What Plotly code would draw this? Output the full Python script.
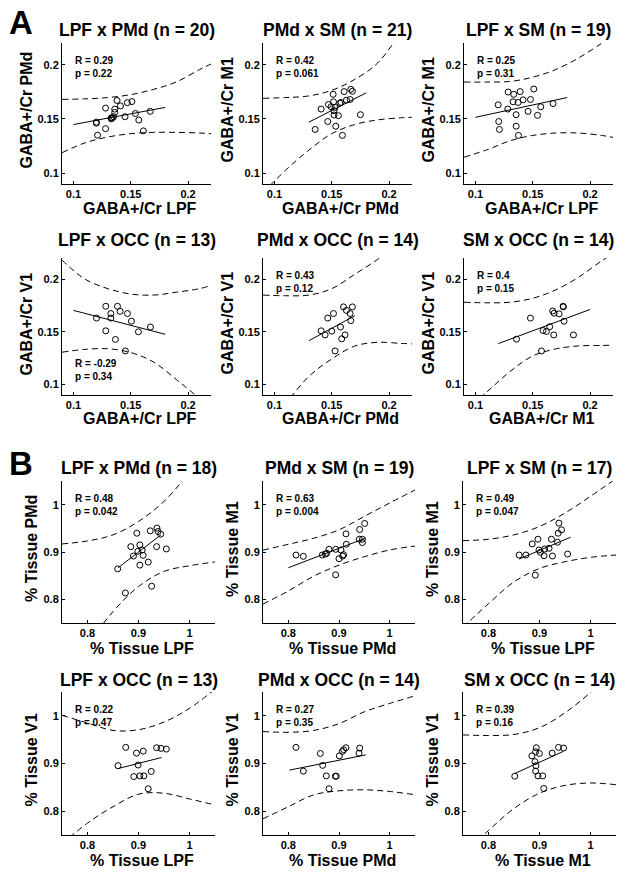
import plotly.graph_objects as go

W, H = 629, 874

# ---------------- A: GABA+/Cr ----------------
titles_a = ["LPF x PMd (n = 20)", "PMd x SM (n = 21)", "LPF x SM (n = 19)",
            "LPF x OCC (n = 13)", "PMd x OCC (n = 14)", "SM x OCC (n = 14)"]
xlabels_a = ["GABA+/Cr LPF", "GABA+/Cr PMd", "GABA+/Cr LPF",
             "GABA+/Cr LPF", "GABA+/Cr PMd", "GABA+/Cr M1"]
ylabels_a = ["GABA+/Cr PMd", "GABA+/Cr M1", "GABA+/Cr M1",
             "GABA+/Cr V1", "GABA+/Cr V1", "GABA+/Cr V1"]
r_a = ["0.29", "0.42", "0.25", "-0.29", "0.43", "0.4"]
p_a = ["0.22", "0.061", "0.31", "0.34", "0.12", "0.15"]

band_x_a = [0.09, 0.11, 0.13, 0.15, 0.17, 0.19, 0.21, 0.22]

a1_x = [0.120, 0.121, 0.128, 0.128, 0.133, 0.134, 0.135, 0.136, 0.136, 0.138,
        0.141, 0.145, 0.147, 0.151, 0.154, 0.157, 0.161, 0.167, 0.120, 0.133]
a1_y = [0.146, 0.135, 0.160, 0.141, 0.151, 0.151, 0.152, 0.156, 0.159, 0.167,
        0.162, 0.152, 0.165, 0.166, 0.155, 0.149, 0.139, 0.157, 0.147, 0.150]
a1_fit_x = [0.10, 0.18]
a1_fit_y = [0.1448, 0.1606]
a1_hi = [0.168, 0.1685, 0.1697, 0.1724, 0.1773, 0.1842, 0.1955, 0.2006]
a1_lo = [0.1188, 0.1279, 0.1333, 0.1364, 0.1376, 0.1376, 0.137, 0.1364]

a2_x = [0.1355, 0.1407, 0.1465, 0.1471, 0.1494, 0.1512, 0.1515, 0.1520, 0.1520, 0.1535, 0.1558,
        0.1570, 0.1581, 0.1593, 0.1608, 0.1628, 0.1660, 0.1666, 0.1680, 0.1750, 0.1529]
a2_y = [0.1403, 0.1591, 0.1476, 0.1633, 0.1612, 0.1727, 0.1658, 0.1576, 0.1536, 0.1433, 0.1530,
        0.1645, 0.1652, 0.1348, 0.1752, 0.1673, 0.1679, 0.1773, 0.1755, 0.1539, 0.1606]
a2_fit_x = [0.13, 0.18]
a2_fit_y = [0.147, 0.174]
a2_hi = [0.169, 0.1697, 0.1712, 0.1764, 0.1864, 0.2015, 0.229, 0.242]
a2_lo = [0.082, 0.103, 0.1212, 0.1364, 0.1448, 0.1491, 0.151, 0.1515]

a3_x = [0.1198, 0.1203, 0.1209, 0.1285, 0.1282, 0.1328, 0.1334, 0.1355, 0.1355, 0.1372,
        0.1375, 0.1390, 0.1416, 0.1459, 0.1480, 0.1509, 0.1541, 0.1570, 0.1677]
a3_y = [0.1630, 0.1476, 0.1403, 0.1748, 0.1591, 0.1658, 0.1727, 0.1539, 0.1433, 0.1652,
        0.1348, 0.1752, 0.1676, 0.1570, 0.1679, 0.1776, 0.1533, 0.1612, 0.1642]
a3_fit_x = [0.10, 0.18]
a3_fit_y = [0.1515, 0.1697]
a3_hi = [0.184, 0.184, 0.1845, 0.1885, 0.1955, 0.2062, 0.2197, 0.227]
a3_lo = [0.1147, 0.1215, 0.1298, 0.1348, 0.137, 0.137, 0.1348, 0.133]

a4_x = [0.1201, 0.1282, 0.1282, 0.1326, 0.1326, 0.1366, 0.1384, 0.1407, 0.1453, 0.1471,
        0.1506, 0.1567, 0.1672]
a4_y = [0.1630, 0.1742, 0.1509, 0.1673, 0.1630, 0.1427, 0.1742, 0.1694, 0.1318, 0.1673,
        0.1600, 0.1500, 0.1545]
a4_fit_x = [0.10, 0.18]
a4_fit_y = [0.1703, 0.1476]
a4_hi = [0.218, 0.200, 0.1909, 0.1858, 0.1848, 0.1876, 0.1909, 0.194]
a4_lo = [0.1306, 0.1333, 0.1339, 0.1303, 0.1212, 0.1045, 0.0864, 0.076]

a5_x = [0.1407, 0.1442, 0.1465, 0.1500, 0.1515, 0.1529, 0.1576, 0.1587, 0.1602, 0.1616,
        0.1628, 0.1660, 0.1666, 0.1680]
a5_y = [0.1509, 0.1470, 0.1630, 0.1506, 0.1673, 0.1318, 0.1545, 0.1433, 0.1736, 0.1470,
        0.1703, 0.1673, 0.1606, 0.1736]
a5_fit_x = [0.13, 0.17]
a5_fit_y = [0.1415, 0.1652]
a5_hi = [0.1848, 0.1842, 0.1848, 0.1909, 0.2045, 0.2187, 0.236, 0.245]
a5_lo = [0.060, 0.0826, 0.1076, 0.1242, 0.1364, 0.140, 0.139, 0.1385]

a6_x = [0.1358, 0.1480, 0.1576, 0.1590, 0.1619, 0.1648, 0.1674, 0.1683, 0.1686, 0.1730,
        0.1765, 0.1767, 0.1773, 0.1855]
a6_y = [0.1430, 0.1630, 0.1318, 0.1512, 0.1503, 0.1548, 0.1697, 0.1470, 0.1676, 0.1670,
        0.1742, 0.1736, 0.1600, 0.1470]
a6_fit_x = [0.12, 0.20]
a6_fit_y = [0.1388, 0.1712]
a6_hi = [0.178, 0.1775, 0.178, 0.1818, 0.1897, 0.2018, 0.2172, 0.224]
a6_lo = [0.075, 0.093, 0.1121, 0.1271, 0.1337, 0.1366, 0.137, 0.1373]

# ---------------- B: % tissue ----------------
titles_b = ["LPF x PMd (n = 18)", "PMd x SM (n = 19)", "LPF x SM (n = 17)",
            "LPF x OCC (n = 13)", "PMd x OCC (n = 14)", "SM x OCC (n = 14)"]
xlabels_b = ["% Tissue LPF", "% Tissue PMd", "% Tissue LPF",
             "% Tissue LPF", "% Tissue PMd", "% Tissue M1"]
ylabels_b = ["% Tissue PMd", "% Tissue M1", "% Tissue M1",
             "% Tissue V1", "% Tissue V1", "% Tissue V1"]
r_b = ["0.48", "0.63", "0.49", "0.22", "0.27", "0.39"]
p_b = ["0.042", "0.004", "0.047", "0.47", "0.35", "0.16"]

band_x_b = [0.75, 0.80, 0.85, 0.90, 0.95, 1.00, 1.05]

b1_x = [0.8592, 0.8743, 0.8849, 0.8901, 0.8967, 0.8987, 0.9026, 0.9026, 0.9072, 0.9092,
        0.9191, 0.9230, 0.9257, 0.9355, 0.9362, 0.9382, 0.9434, 0.9546]
b1_y = [0.8645, 0.8135, 0.9113, 0.8915, 0.9397, 0.9014, 0.9149, 0.8723, 0.9043, 0.8929,
        0.8787, 0.9447, 0.8277, 0.9113, 0.9504, 0.9433, 0.9376, 0.9064]
b1_fit_x = [0.86, 0.944]
b1_fit_y = [0.8667, 0.9362]
b1_hi = [0.917, 0.9234, 0.9362, 0.9645, 1.007, 1.068, 1.13]
b1_lo = [0.63, 0.704, 0.774, 0.827, 0.859, 0.871, 0.879]

b2_x = [0.8151, 0.8296, 0.8671, 0.8730, 0.8757, 0.8803, 0.8934, 0.8934, 0.9000, 0.9039,
        0.9072, 0.9092, 0.9138, 0.9145, 0.9401, 0.9408, 0.9461, 0.9461, 0.9507]
b2_y = [0.8936, 0.8908, 0.8936, 0.8957, 0.8972, 0.9057, 0.8518, 0.9057, 0.8858, 0.9043,
        0.8915, 0.8943, 0.9383, 0.9163, 0.9270, 0.9475, 0.9270, 0.9199, 0.9603]
b2_fit_x = [0.80, 0.952]
b2_fit_y = [0.8667, 0.9291]
b2_hi = [0.904, 0.9163, 0.9291, 0.9468, 0.9752, 1.0035, 1.031]
b2_lo = [0.790, 0.8177, 0.8489, 0.8723, 0.890, 0.9043, 0.9125]

b3_x = [0.8601, 0.8733, 0.8858, 0.8917, 0.8970, 0.8990, 0.9017, 0.9089, 0.9102, 0.9188,
        0.9234, 0.9254, 0.9353, 0.9366, 0.9380, 0.9432, 0.9551]
b3_y = [0.8936, 0.8936, 0.9170, 0.8511, 0.9270, 0.9043, 0.8993, 0.8922, 0.9064, 0.9078,
        0.9270, 0.8915, 0.9206, 0.9397, 0.9610, 0.9468, 0.8957]
b3_fit_x = [0.86, 0.961]
b3_fit_y = [0.8851, 0.9312]
b3_hi = [0.924, 0.927, 0.9362, 0.9539, 0.9823, 1.0177, 1.055]
b3_lo = [0.741, 0.7908, 0.8369, 0.8652, 0.8794, 0.8887, 0.8936]

b4_x = [0.8599, 0.8750, 0.8908, 0.8961, 0.8993, 0.9026, 0.9092, 0.9105, 0.9191, 0.9250,
        0.9355, 0.9441, 0.9546]
b4_y = [0.8954, 0.9338, 0.8726, 0.9217, 0.8968, 0.8740, 0.9260, 0.8740, 0.8470, 0.8833,
        0.9331, 0.9317, 0.9302]
b4_fit_x = [0.861, 0.945]
b4_fit_y = [0.8897, 0.9125]
b4_hi = [1.001, 0.985, 0.9694, 0.9708, 0.987, 1.0157, 1.056]
b4_lo = [0.731, 0.775, 0.8093, 0.8356, 0.8377, 0.8256, 0.813]

b5_x = [0.8151, 0.8296, 0.8632, 0.8678, 0.8750, 0.8803, 0.8928, 0.8947, 0.9007, 0.9066,
        0.9092, 0.9138, 0.9395, 0.9408]
b5_y = [0.9338, 0.8840, 0.9210, 0.8961, 0.8740, 0.8470, 0.8733, 0.8733, 0.9160, 0.9253,
        0.9288, 0.9331, 0.9217, 0.9324]
b5_fit_x = [0.802, 0.953]
b5_fit_y = [0.8861, 0.9181]
b5_hi = [0.967, 0.9655, 0.9694, 0.9836, 1.0085, 1.026, 1.042]
b5_lo = [0.784, 0.8093, 0.8342, 0.8427, 0.8448, 0.8413, 0.8345]

b6_x = [0.8515, 0.8851, 0.8911, 0.8924, 0.8937, 0.8931, 0.8924, 0.8997, 0.8970, 0.9063,
        0.9083, 0.9248, 0.9373, 0.9472]
b6_y = [0.8733, 0.9160, 0.9039, 0.9246, 0.9331, 0.8954, 0.8840, 0.9210, 0.8740, 0.8740,
        0.8477, 0.9217, 0.9338, 0.9324]
b6_fit_x = [0.8515, 0.9465]
b6_fit_y = [0.879, 0.9253]
b6_hi = [0.960, 0.9587, 0.9609, 0.9751, 1.0064, 1.049, 1.10]
b6_lo = [0.71, 0.7594, 0.8057, 0.8377, 0.8541, 0.8591, 0.8555]

panels_a = [
    (a1_x, a1_y, a1_fit_x, a1_fit_y, a1_hi, a1_lo),
    (a2_x, a2_y, a2_fit_x, a2_fit_y, a2_hi, a2_lo),
    (a3_x, a3_y, a3_fit_x, a3_fit_y, a3_hi, a3_lo),
    (a4_x, a4_y, a4_fit_x, a4_fit_y, a4_hi, a4_lo),
    (a5_x, a5_y, a5_fit_x, a5_fit_y, a5_hi, a5_lo),
    (a6_x, a6_y, a6_fit_x, a6_fit_y, a6_hi, a6_lo),
]
panels_b = [
    (b1_x, b1_y, b1_fit_x, b1_fit_y, b1_hi, b1_lo),
    (b2_x, b2_y, b2_fit_x, b2_fit_y, b2_hi, b2_lo),
    (b3_x, b3_y, b3_fit_x, b3_fit_y, b3_hi, b3_lo),
    (b4_x, b4_y, b4_fit_x, b4_fit_y, b4_hi, b4_lo),
    (b5_x, b5_y, b5_fit_x, b5_fit_y, b5_hi, b5_lo),
    (b6_x, b6_y, b6_fit_x, b6_fit_y, b6_hi, b6_lo),
]

# --- layout geometry (pixels) ---
FONT = "Liberation Sans, Arial, Helvetica, sans-serif"
rows_px = [(43, 184), (258, 395), (481, 623), (692, 835)]
cols_a_px = [(62, 211), (263, 412), (464, 613)]
cols_b_px = [(62, 215), (263, 415), (463, 616)]
title_y_px = [30, 240, 468, 680]
xlab_y_px = [209, 419, 648, 860]


def px_x(px):
    return px / W


def px_y(py):
    return 1 - py / H


fig = go.Figure()
annotations = []
layout_axes = {}

for k in range(12):
    part_b = k >= 6
    row = k // 3
    col = k % 3
    j = k % 6
    px_d, py_d, fx, fy, hi, lo = (panels_b if part_b else panels_a)[j]
    bx = band_x_b if part_b else band_x_a
    sfx = "" if k == 0 else str(k + 1)
    xa, ya = "x" + sfx, "y" + sfx

    cx0, cx1 = (cols_b_px if part_b else cols_a_px)[col]
    ry0, ry1 = rows_px[row]

    for band in (hi, lo):
        fig.add_trace(go.Scatter(x=bx, y=band, mode="lines", xaxis=xa, yaxis=ya,
                                 line=dict(color="black", width=1, dash="6px,4px", shape="spline"),
                                 showlegend=False, hoverinfo="skip"))
    fig.add_trace(go.Scatter(x=fx, y=fy, mode="lines", xaxis=xa, yaxis=ya,
                             line=dict(color="black", width=1), showlegend=False))
    fig.add_trace(go.Scatter(x=px_d, y=py_d, mode="markers", xaxis=xa, yaxis=ya,
                             marker=dict(symbol="circle-open", size=6, color="black",
                                         line=dict(width=1)),
                             showlegend=False))

    if part_b:
        rng = [0.75, 1.05]
        tv, tt = [0.8, 0.9, 1.0], ["0.8", "0.9", "1"]
    else:
        rng = [0.09, 0.22]
        tv, tt = [0.1, 0.15, 0.2], ["0.1", "0.15", "0.2"]

    ax_common = dict(range=rng, tickvals=tv, ticktext=tt, showline=True, linecolor="black",
                     linewidth=1, showgrid=False, zeroline=False, ticks="inside", ticklen=3,
                     tickcolor="black", tickfont=dict(family=FONT, size=11, color="black",
                                                      weight="bold"),
                     fixedrange=True)
    layout_axes["xaxis" + sfx] = dict(ax_common, domain=[px_x(cx0), px_x(cx1)], anchor=ya)
    layout_axes["yaxis" + sfx] = dict(ax_common, domain=[px_y(ry1), px_y(ry0)], anchor=xa)

    titles = titles_b if part_b else titles_a
    xl = xlabels_b if part_b else xlabels_a
    yl = ylabels_b if part_b else ylabels_a
    rr = r_b if part_b else r_a
    pp = p_b if part_b else p_a

    # panel title
    annotations.append(dict(text="<b>%s</b>" % titles[j], xref="paper", yref="paper",
                            x=px_x((cx0 + cx1) / 2), y=px_y(title_y_px[row]),
                            xanchor="center", yanchor="middle", showarrow=False,
                            font=dict(family=FONT, size=17.5, color="black")))
    # x label
    annotations.append(dict(text="<b>%s</b>" % xl[j], xref="paper", yref="paper",
                            x=px_x((cx0 + cx1) / 2 + 3), y=px_y(xlab_y_px[row]),
                            xanchor="center", yanchor="middle", showarrow=False,
                            font=dict(family=FONT, size=16, color="black")))
    # y label
    off = 31 if part_b else 36
    annotations.append(dict(text="<b>%s</b>" % yl[j], xref="paper", yref="paper",
                            x=px_x(cx0 - off), y=px_y((ry0 + ry1) / 2 - 3),
                            xanchor="center", yanchor="middle", textangle=-90, showarrow=False,
                            font=dict(family=FONT, size=16, color="black")))
    # stats
    stat = "<b>R = %s<br>p = %s</b>" % (rr[j], pp[j])
    if k == 3:
        sy, yanc = 0.08, "bottom"
    else:
        sy, yanc = 0.93, "top"
    annotations.append(dict(text=stat, xref=xa + " domain", yref=ya + " domain",
                            x=0.075, y=sy, xanchor="left", yanchor=yanc, align="left",
                            showarrow=False,
                            font=dict(family=FONT, size=10, color="black")))

for letter, ly in (("A", 22), ("B", 464)):
    annotations.append(dict(text="<b>%s</b>" % letter, xref="paper", yref="paper",
                            x=px_x(21), y=px_y(ly), xanchor="center", yanchor="middle",
                            showarrow=False, font=dict(family=FONT, size=33, color="black")))

fig.update_layout(
    width=W, height=H,
    margin=dict(l=0, r=0, t=0, b=0),
    paper_bgcolor="white", plot_bgcolor="white",
    font=dict(family=FONT, color="black"),
    annotations=annotations,
    showlegend=False,
    **layout_axes,
)

# page has a default 8px body margin; remove it so the figure fills the window
fig.write_html("out.html", config={"displayModeBar": False},
               post_script="document.body.style.margin='0';")
